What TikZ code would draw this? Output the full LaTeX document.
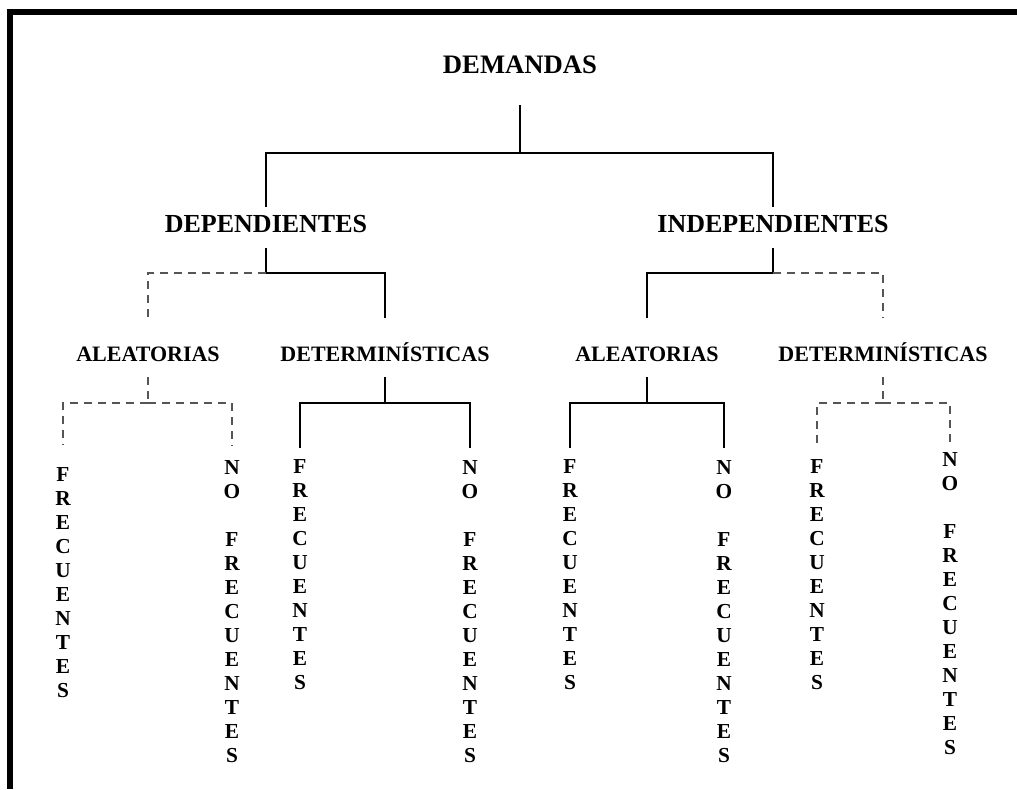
\documentclass[tikz,border=0pt]{standalone}
\usepackage{fontspec}
\setmainfont{Liberation Serif}
\usepackage{xcolor}
\definecolor{dashgray}{HTML}{555555}

\begin{document}
\begin{tikzpicture}[x=0.75pt, y=-0.75pt,
    top/.style={font=\fontsize{20}{24}\selectfont\bfseries, inner sep=0pt, anchor=base, text depth=24pt},
    mid/.style={font=\fontsize{19.5}{23}\selectfont\bfseries, inner sep=0pt, anchor=base, text height=18.75pt, text depth=12pt},
    low/.style={font=\fontsize{16.5}{20}\selectfont\bfseries, inner sep=0pt, anchor=base, text height=32pt, text depth=12pt},
    leaf/.style={font=\fontsize{16}{18}\selectfont\bfseries, inner sep=0pt, anchor=north, align=center},
    trunk/.style={line width=1.5pt},
    link/.style={line width=1pt},
    maybe/.style={line width=1pt, color=dashgray, dash pattern=on 6pt off 4.5pt}
]
\useasboundingbox (0,0) rectangle (1017,789);
\fill (7,9) rectangle (1017,15);
\fill (7,9) rectangle (13,789);

\node[top] (dem) at (520,73) {DEMANDAS};
\node[mid] (dep) at (266,232) {DEPENDIENTES};
\node[mid] (indep) at (773,232) {INDEPENDIENTES};
\node[low] (alea1) at (148,361) {ALEATORIAS};
\node[low] (det1) at (385,361) {DETERMINÍSTICAS};
\node[low] (alea2) at (647,361) {ALEATORIAS};
\node[low] (det2) at (883,361) {DETERMINÍSTICAS};

\node[leaf] (fr1) at (63,467) {F\\R\\E\\C\\U\\E\\N\\T\\E\\S};
\node[leaf] (no1) at (232,460) {N\\O\\[18pt]F\\R\\E\\C\\U\\E\\N\\T\\E\\S};
\node[leaf] (fr2) at (300,459) {F\\R\\E\\C\\U\\E\\N\\T\\E\\S};
\node[leaf] (no2) at (470,460) {N\\O\\[18pt]F\\R\\E\\C\\U\\E\\N\\T\\E\\S};
\node[leaf] (fr3) at (570,459) {F\\R\\E\\C\\U\\E\\N\\T\\E\\S};
\node[leaf] (no3) at (724,460) {N\\O\\[18pt]F\\R\\E\\C\\U\\E\\N\\T\\E\\S};
\node[leaf] (fr4) at (817,459) {F\\R\\E\\C\\U\\E\\N\\T\\E\\S};
\node[leaf] (no4) at (950,452) {N\\O\\[18pt]F\\R\\E\\C\\U\\E\\N\\T\\E\\S};

\coordinate (jdem) at (520,153);
\coordinate (jdep) at (266,273);
\coordinate (jind) at (773,273);
\coordinate (jalea1) at (148,403);
\coordinate (jdet1) at (385,403);
\coordinate (jalea2) at (647,403);
\coordinate (jdet2) at (883,403);

% first split
\draw[trunk] (dem.south) -- (jdem) -| (dep.north);
\draw[trunk] (jdem) -| (indep.north);

% second split
\draw[link] (dep.south) -- (jdep) -| (det1.north);
\draw[maybe] (jdep) -| (alea1.north);
\draw[link] (indep.south) -- (jind) -| (alea2.north);
\draw[maybe] (jind) -| (det2.north);

% leaves
\draw[maybe] (alea1.south) -- (jalea1);
\draw[maybe, shorten >=16.5pt] (jalea1) -| (fr1.north);
\draw[maybe, shorten >=11pt] (jalea1) -| (no1.north);
\draw[link] (det1.south) -- (jdet1);
\draw[link, shorten >=8pt] (jdet1) -| (fr2.north);
\draw[link, shorten >=9pt] (jdet1) -| (no2.north);
\draw[link] (alea2.south) -- (jalea2);
\draw[link, shorten >=8pt] (jalea2) -| (fr3.north);
\draw[link, shorten >=9pt] (jalea2) -| (no3.north);
\draw[maybe] (det2.south) -- (jdet2);
\draw[maybe, shorten >=10.5pt] (jdet2) -| (fr4.north);
\draw[maybe, shorten >=5pt] (jdet2) -| (no4.north);
\end{tikzpicture}
\end{document}
